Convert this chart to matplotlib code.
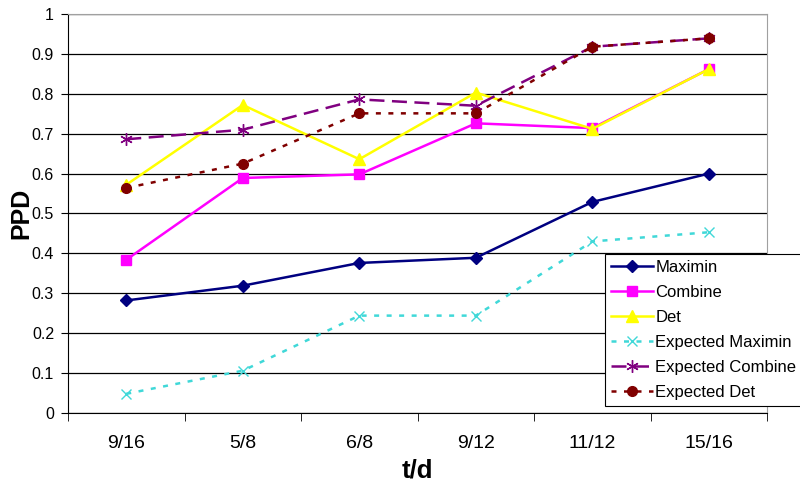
import matplotlib
matplotlib.use("Agg")
import matplotlib.pyplot as plt
import numpy as np

plt.rcParams['font.family'] = ['Liberation Sans', 'DejaVu Sans']

categories = ["9/16", "5/8", "6/8", "9/12", "11/12", "15/16"]

maximin = [0.282, 0.319, 0.376, 0.389, 0.529, 0.600]
combine = [0.384, 0.589, 0.598, 0.726, 0.714, 0.862]
det = [0.572, 0.772, 0.636, 0.803, 0.712, 0.862]
exp_maximin = [0.048, 0.106, 0.244, 0.244, 0.430, 0.453]
exp_combine = [0.686, 0.710, 0.786, 0.770, 0.918, 0.939]
exp_det = [0.564, 0.625, 0.751, 0.751, 0.918, 0.939]

series = [
    ("Maximin", maximin, dict(color="#000080", linestyle="-", marker="D", markersize=6)),
    ("Combine", combine, dict(color="#FF00FF", linestyle="-", marker="s", markersize=7)),
    ("Det", det, dict(color="#FFFF00", linestyle="-", marker="^", markersize=8)),
    ("Expected Maximin", exp_maximin, dict(color="#40D8D8", linestyle=(0, (2, 3)), marker="x",
                                           markersize=7, markeredgewidth=1)),
    ("Expected Combine", exp_combine, dict(color="#800080", linestyle=(0, (6, 3)),
                                           marker=(6, 2, 0), markersize=9, markeredgewidth=1)),
    ("Expected Det", exp_det, dict(color="#800000", linestyle=(0, (2, 3)), marker="o",
                                   markersize=7)),
]

fig = plt.figure(figsize=(8, 4.83), dpi=100)
ax = fig.add_axes([0.085, 0.145, 0.874, 0.826])

x = np.arange(len(categories))
for name, vals, style in series:
    ax.plot(x, vals, label=name, linewidth=1.8, **style)

ax.set_xlim(-0.5, len(categories) - 0.5)
ax.set_ylim(0, 1)
ax.set_yticks(np.arange(0, 1.01, 0.1))
ax.set_yticklabels(["0"] + [f"{v:.1f}" for v in np.arange(0.1, 0.95, 0.1)] + ["1"])
ax.yaxis.grid(True, color="black", linewidth=0.9)
ax.set_axisbelow(True)

ax.set_xticks(x)
ax.set_xticklabels(categories)
ax.set_xticks(np.arange(-0.5, len(categories) + 0.5, 1), minor=True)
ax.tick_params(axis="x", which="major", length=0, pad=16, labelsize=14)
ax.tick_params(axis="x", which="minor", length=6, direction="out", color="black")
ax.tick_params(axis="y", length=5, direction="out", labelsize=11.5, pad=5)

for side in ("top", "right"):
    ax.spines[side].set_color("#A0A0A0")
for side in ("left", "bottom"):
    ax.spines[side].set_color("black")

ax.set_xlabel("t/d", fontsize=18.5, fontweight="bold", va="center")
ax.xaxis.set_label_coords(0.5, -0.143)
ax.set_ylabel("PPD", fontsize=18, fontweight="bold", va="center")
ax.yaxis.set_label_coords(-0.066, 0.5)

leg = fig.legend(loc="upper left", bbox_to_anchor=(0.756, 0.474), fontsize=12,
                 frameon=True, fancybox=False, edgecolor="black", framealpha=1,
                 borderaxespad=0, handlelength=2.55, labelspacing=0.6,
                 handletextpad=0.12, borderpad=0.35)
leg.get_frame().set_linewidth(0.8)

fig.savefig("out.png", dpi=100)
